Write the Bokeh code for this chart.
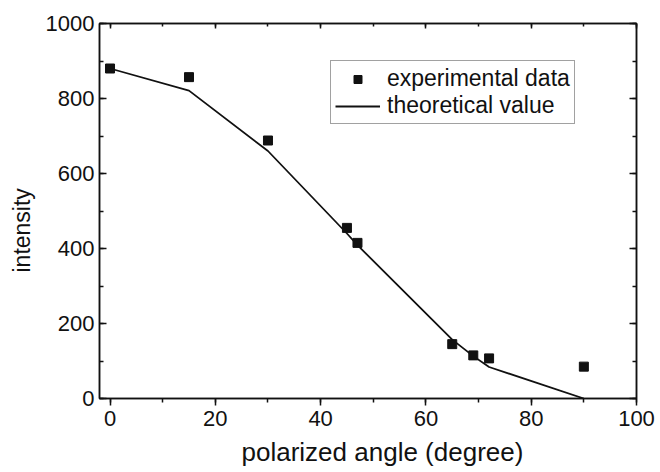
from bokeh.plotting import figure
from bokeh.models import (Range1d, LinearAxis, SingleIntervalTicker, Legend,
                          LegendItem, Title)
from bokeh.embed import file_html
from bokeh.resources import INLINE
from bokeh.core.properties import value

# ---- data ----
angle_exp = [0, 15, 30, 45, 47, 65, 69, 72, 90]
intensity_exp = [880, 857, 688, 455, 415, 145, 115, 107, 85]
angle_theory = [0, 15, 30, 45, 47, 65, 69, 72, 90]
intensity_theory = [880, 821, 660, 440, 409, 157, 113, 84, 0]

x_ticks = [0, 20, 40, 60, 80, 100]
y_ticks = [0, 200, 400, 600, 800, 1000]

x_label = "polarized angle (degree)"
y_label = "intensity"
series_names = ["experimental data", "theoretical value"]

FONT = "Liberation Sans"
INK = "#111111"
NBSP = "\u00a0"

p = figure(width=660, height=472, output_backend="svg", toolbar_location=None,
           x_range=Range1d(-2, 100), y_range=Range1d(0, 1000),
           x_axis_location=None, y_axis_location=None,
           min_border_left=99, min_border_right=24,
           min_border_top=23, min_border_bottom=74)
p.xgrid.visible = False
p.ygrid.visible = False
p.outline_line_color = INK
p.outline_line_width = 1.5
p.background_fill_color = "white"
p.border_fill_color = "white"


def style_axis(ax, blank_ticks, tin, tout, min_in, min_out, standoff):
    ax.axis_line_color = INK
    ax.axis_line_width = 1.5
    ax.major_tick_line_color = INK
    ax.minor_tick_line_color = INK
    ax.major_tick_line_width = 1.5
    ax.minor_tick_line_width = 1.5
    ax.major_tick_in = tin
    ax.major_tick_out = tout
    ax.minor_tick_in = min_in
    ax.minor_tick_out = min_out
    ax.major_label_standoff = standoff
    ax.major_label_text_font = FONT
    ax.major_label_text_font_size = "22px"
    ax.major_label_text_color = INK
    if blank_ticks is not None:
        ax.major_label_overrides = {t: "" for t in blank_ticks}


xb = LinearAxis(ticker=SingleIntervalTicker(interval=20, num_minor_ticks=2))
style_axis(xb, None, 0, 7, 0, 4, 5)
# leading no-break spaces nudge the centred label to the right, as in the original
xb.axis_label = NBSP * 4 + x_label
xb.axis_label_standoff = 8
xb.axis_label_text_font = FONT
xb.axis_label_text_font_size = "26px"
xb.axis_label_text_font_style = "normal"
xb.axis_label_text_color = INK
p.add_layout(xb, "below")

xt = LinearAxis(ticker=SingleIntervalTicker(interval=20, num_minor_ticks=2))
style_axis(xt, x_ticks, 5, 0, 3, 0, 0)
p.add_layout(xt, "above")

yl = LinearAxis(ticker=SingleIntervalTicker(interval=200, num_minor_ticks=2))
style_axis(yl, None, 7, 0, 4, 0, 5)
p.add_layout(yl, "left")

yr = LinearAxis(ticker=SingleIntervalTicker(interval=200, num_minor_ticks=2))
style_axis(yr, y_ticks, 7, 0, 4, 0, 0)
p.add_layout(yr, "right")

# y axis title as a panel title so that it can be offset along the axis
yl_title = Title(text=y_label, align="left", offset=126, vertical_align="middle",
                 standoff=14, text_font=FONT, text_font_size="23px",
                 text_font_style="normal", text_color=INK)
p.add_layout(yl_title, "left")

ln = p.line(angle_theory, intensity_theory, line_color=INK, line_width=1.8)
sc = p.scatter(angle_exp, intensity_exp, marker="square", size=9,
               fill_color=INK, line_color=INK)

legend = Legend(items=[LegendItem(label=value(series_names[0]), renderers=[sc]),
                       LegendItem(label=value(series_names[1]), renderers=[ln])],
                location=(231, 274), orientation="vertical",
                border_line_color="#444444", border_line_width=1,
                background_fill_color="white", background_fill_alpha=1,
                padding=4, margin=0, spacing=0,
                glyph_width=45, glyph_height=20, label_height=20,
                label_standoff=7, label_text_font=FONT,
                label_text_font_size="23px", label_text_color=INK)
p.add_layout(legend)

open("out.html", "w").write(file_html(p, INLINE))
